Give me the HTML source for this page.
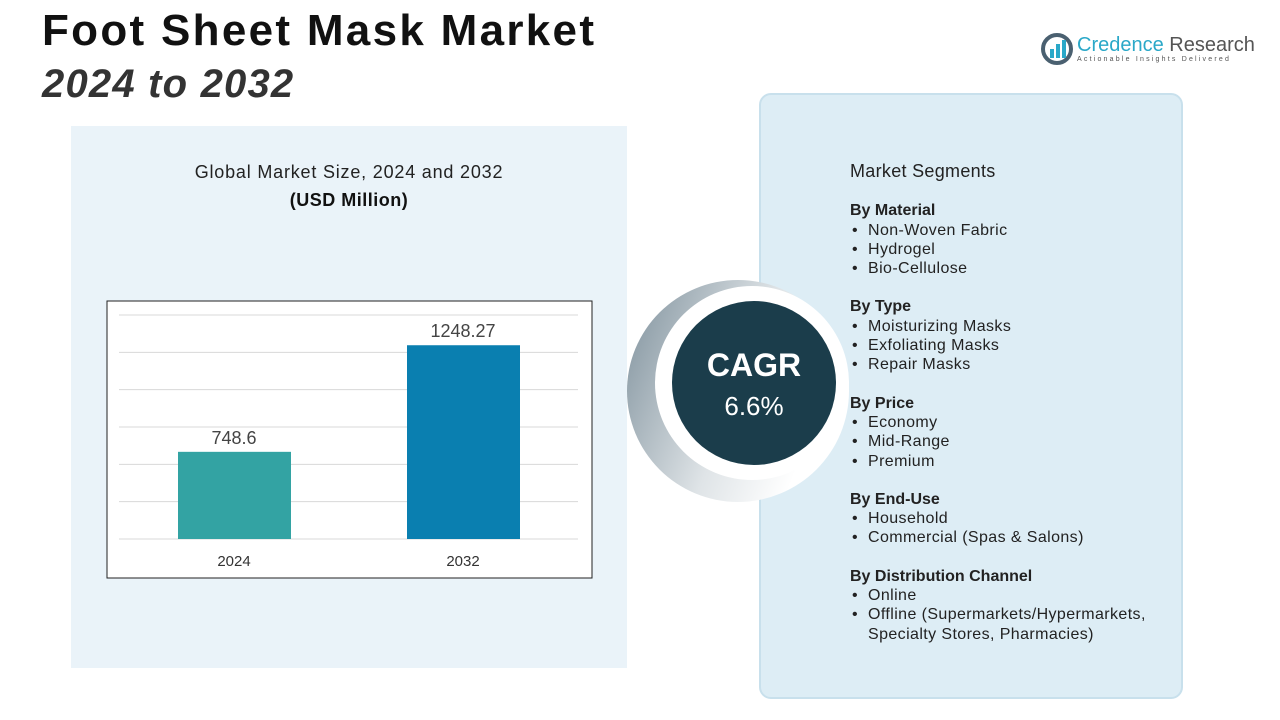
<!DOCTYPE html>
<html><head><meta charset="utf-8"><style>
body{margin:0;width:1280px;height:720px;background:#fff;font-family:"Liberation Sans",sans-serif;position:relative;overflow:hidden}
.abs{position:absolute}
.seg{position:absolute;left:850px;top:162px;font-size:16px;letter-spacing:0.4px;color:#222;line-height:19.3px}
.seg b{font-weight:bold;letter-spacing:0}
.seg .it{padding-left:18px;position:relative}
.seg .it:before{content:"•";position:absolute;left:2px}
</style></head><body>
<div class="abs" style="left:42px;top:6px;font-size:44px;font-weight:bold;color:#111;letter-spacing:2.3px">Foot Sheet Mask Market</div>
<div class="abs" style="left:42px;top:62px;font-size:40px;font-weight:bold;font-style:italic;color:#333;letter-spacing:1.2px">2024 to 2032</div>
<div class="abs" style="left:1040px;top:32px;width:210px;height:36px">
<svg width="34" height="34" style="position:absolute;left:0;top:0"><circle cx="17" cy="17" r="14" fill="none" stroke="#4a6070" stroke-width="4"/><rect x="10" y="17" width="4" height="9" fill="#2aa8c8"/><rect x="16" y="12" width="4" height="14" fill="#2aa8c8"/><rect x="22" y="8" width="4" height="18" fill="#2aa8c8"/></svg>
<div style="position:absolute;left:37px;top:2px;font-size:20px;color:#2aa8c8;white-space:nowrap">Credence <span style="color:#555">Research</span></div>
<div style="position:absolute;left:37px;top:24px;font-size:7px;letter-spacing:2.2px;color:#555;white-space:nowrap">Actionable Insights Delivered</div>
</div>
<div class="abs" style="left:71px;top:126px;width:556px;height:542px;background:#eaf3f9"></div>
<div class="abs" style="left:71px;top:162px;width:556px;text-align:center;font-size:18px;color:#222;letter-spacing:0.8px">Global Market Size, 2024 and 2032</div>
<div class="abs" style="left:71px;top:190px;width:556px;text-align:center;font-size:18px;font-weight:bold;color:#111;letter-spacing:0.5px">(USD Million)</div>
<svg class="abs" id="chart" style="left:0;top:0" width="640" height="720"></svg>
<div class="abs" style="left:759px;top:93px;width:424px;height:606px;background:#ddedf5;border:2px solid #c8e0ec;border-radius:12px;box-sizing:border-box"></div>
<svg class="abs" style="left:620px;top:270px" width="240" height="240">
<defs><linearGradient id="g" x1="0" y1="0.3" x2="1" y2="0.7"><stop offset="0" stop-color="#8e9ea8"/><stop offset="0.5" stop-color="#dfe4e7"/><stop offset="0.85" stop-color="#fff"/></linearGradient></defs>
<circle cx="118" cy="121" r="111" fill="url(#g)"/>
<circle cx="132" cy="113" r="97" fill="#fff"/>
<circle cx="134" cy="113" r="82" fill="#1b3d4b"/>
<text x="134" y="106" text-anchor="middle" font-size="32" font-weight="bold" fill="#fff" font-family="Liberation Sans">CAGR</text>
<text x="134" y="145" text-anchor="middle" font-size="26" fill="#fff" font-family="Liberation Sans">6.6%</text>
</svg>
<div class="seg">
<div style="font-size:18px;margin-bottom:20px;letter-spacing:0.3px">Market Segments</div>
<b>By Material</b><div class="it">Non-Woven Fabric</div><div class="it">Hydrogel</div><div class="it">Bio-Cellulose</div>
<div style="height:19px"></div><b>By Type</b><div class="it">Moisturizing Masks</div><div class="it">Exfoliating Masks</div><div class="it">Repair Masks</div>
<div style="height:19px"></div><b>By Price</b><div class="it">Economy</div><div class="it">Mid-Range</div><div class="it">Premium</div>
<div style="height:19px"></div><b>By End-Use</b><div class="it">Household</div><div class="it">Commercial (Spas &amp; Salons)</div>
<div style="height:19px"></div><b>By Distribution Channel</b><div class="it">Online</div><div class="it">Offline (Supermarkets/Hypermarkets,<br>Specialty Stores, Pharmacies)</div>
</div>
<script>
const categories=["2024","2032"];
const values=[748.6,1248.27];
const labels=["748.6","1248.27"];
const colors=["#33a3a3","#0a7fb0"];
const yMin=340,yMax=1390,gridStep=175;
const svg=document.getElementById('chart');
const NS="http://www.w3.org/2000/svg";
const y=v=>539-(v-yMin)/(yMax-yMin)*224;
const x=i=>178+i*229;
function mk(t,a){const e=document.createElementNS(NS,t);for(const k in a)e.setAttribute(k,a[k]);svg.appendChild(e);return e;}
const frame=mk('rect',{x:107,y:301,width:485,height:277,fill:'#fff',stroke:'#222','stroke-width':1});


for(let v=yMin;v<=yMax+1;v+=gridStep){const g=mk('line',{x1:119,x2:578,y1:y(v),y2:y(v),stroke:'#d8d8d8'});

}
values.forEach((v,i)=>{
const r=mk('rect',{x:x(i),y:y(v),width:113,height:539-y(v),fill:colors[i]});


const t=mk('text',{x:x(i)+56,y:y(v)-8,'text-anchor':'middle','font-size':18,fill:'#444','font-family':'Liberation Sans'});t.textContent=labels[i];


const c=mk('text',{x:x(i)+56,y:566,'text-anchor':'middle','font-size':15,fill:'#333','font-family':'Liberation Sans'});c.textContent=categories[i];


});
</script>
</body></html>
